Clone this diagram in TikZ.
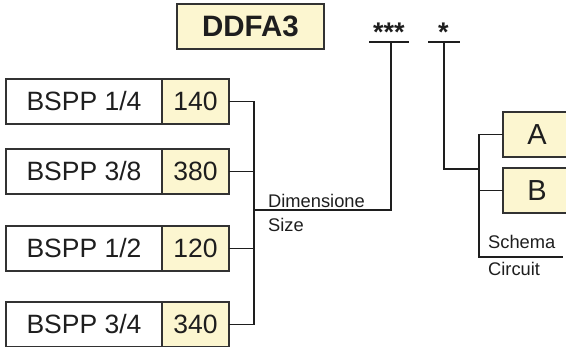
\documentclass[tikz,border=0pt]{standalone}
\usepackage{fontspec}
\setmainfont{Liberation Sans}
\definecolor{pale}{RGB}{252,246,208}
\definecolor{ink}{RGB}{30,30,30}
\definecolor{edge}{RGB}{50,50,50}
\begin{document}
\begin{tikzpicture}[x=1pt,y=-1pt,
 box/.style={draw=edge,line width=1.8pt,inner sep=0pt,outer sep=0pt,anchor=north west,minimum height=45pt,font=\fontsize{26.5}{26.5}\selectfont,text=ink,text height=18.6pt,text depth=0pt},
 namebox/.style={box,fill=white,minimum width=156pt},
 codebox/.style={box,fill=pale,minimum width=67pt},
 letterbox/.style={box,fill=pale,minimum width=68pt,font=\fontsize{29}{29}\selectfont,text height=20.6pt},
 wire/.style={draw=ink,line width=1.6pt},
 lab/.style={font=\fontsize{18.3}{18.3}\selectfont,text=ink,anchor=base west,inner sep=0pt},
 stars/.style={font=\bfseries\fontsize{27}{27}\selectfont,text=ink,anchor=base,inner sep=0pt}]
\useasboundingbox (0,0) rectangle (566,347);
% title
\node[draw=edge,line width=1.8pt,fill=pale,minimum width=147pt,minimum height=45pt,inner sep=0pt,
      font=\bfseries\fontsize{29.5}{29.5}\selectfont,text=ink,text height=20.5pt,text depth=0pt] (title) at (250.5,26.5) {DDFA3};
% stars and bars
\node[stars] (st3) at (389,42) {***};
\node[stars] (st1) at (443.5,42) {*};
\coordinate (s3l) at (369,42);
\coordinate (s3) at (391,42);
\coordinate (s3r) at (409,42);
\coordinate (s1l) at (428,42);
\coordinate (s1) at (444,42);
\coordinate (s1r) at (460,42);
\draw[draw=ink,line width=2.6pt] (s3l) -- (s3);
\draw[wire] (s3) -- (s3r);
\draw[wire] (s1l) -- (s1r);
% size boxes
\node[namebox] (n1) at (6,79) {BSPP 1/4};
\node[codebox] (c1) at (162,79) {140};
\node[namebox] (n2) at (6,149) {BSPP 3/8};
\node[codebox] (c2) at (162,149) {380};
\node[namebox] (n3) at (6,226) {BSPP 1/2};
\node[codebox] (c3) at (162,226) {120};
\node[namebox] (n4) at (6,302) {BSPP 3/4};
\node[codebox] (c4) at (162,302) {340};
\coordinate (tx) at (254,0);
\draw[wire] (c1.east) -- (c1.east -| tx) -- (c4.east -| tx) -- (c4.east);
\draw[wire] (c2.east) -- (c2.east -| tx);
\draw[wire] (c3.east) -- (c3.east -| tx);
\coordinate (dj) at (254,210);
\coordinate (dk) at (391,210);
\draw[wire] (dj) -- (dk) -- (s3);
\node[lab] (dim) at (268,207.5) {Dimensione};
\node[lab] (size) at (268,231.5) {Size};
% circuit boxes
\node[letterbox] (a) at (503,112) {A};
\node[letterbox] (b) at (503,168) {B};
\coordinate (t2x) at (479,0);
\coordinate (cj) at (444,169);
\coordinate (ck) at (479,169);
\coordinate (sb) at (479,257);
\coordinate (se) at (563,257);
\draw[wire] (s1) -- (cj) -- (ck);
\draw[wire] (a.west) -- (a.west -| t2x) -- (sb) -- (se);
\draw[wire] (b.west) -- (b.west -| t2x);
\node[lab] (schema) at (488,249) {Schema};
\node[lab] (circ) at (488,275.7) {Circuit};
\end{tikzpicture}
\end{document}
